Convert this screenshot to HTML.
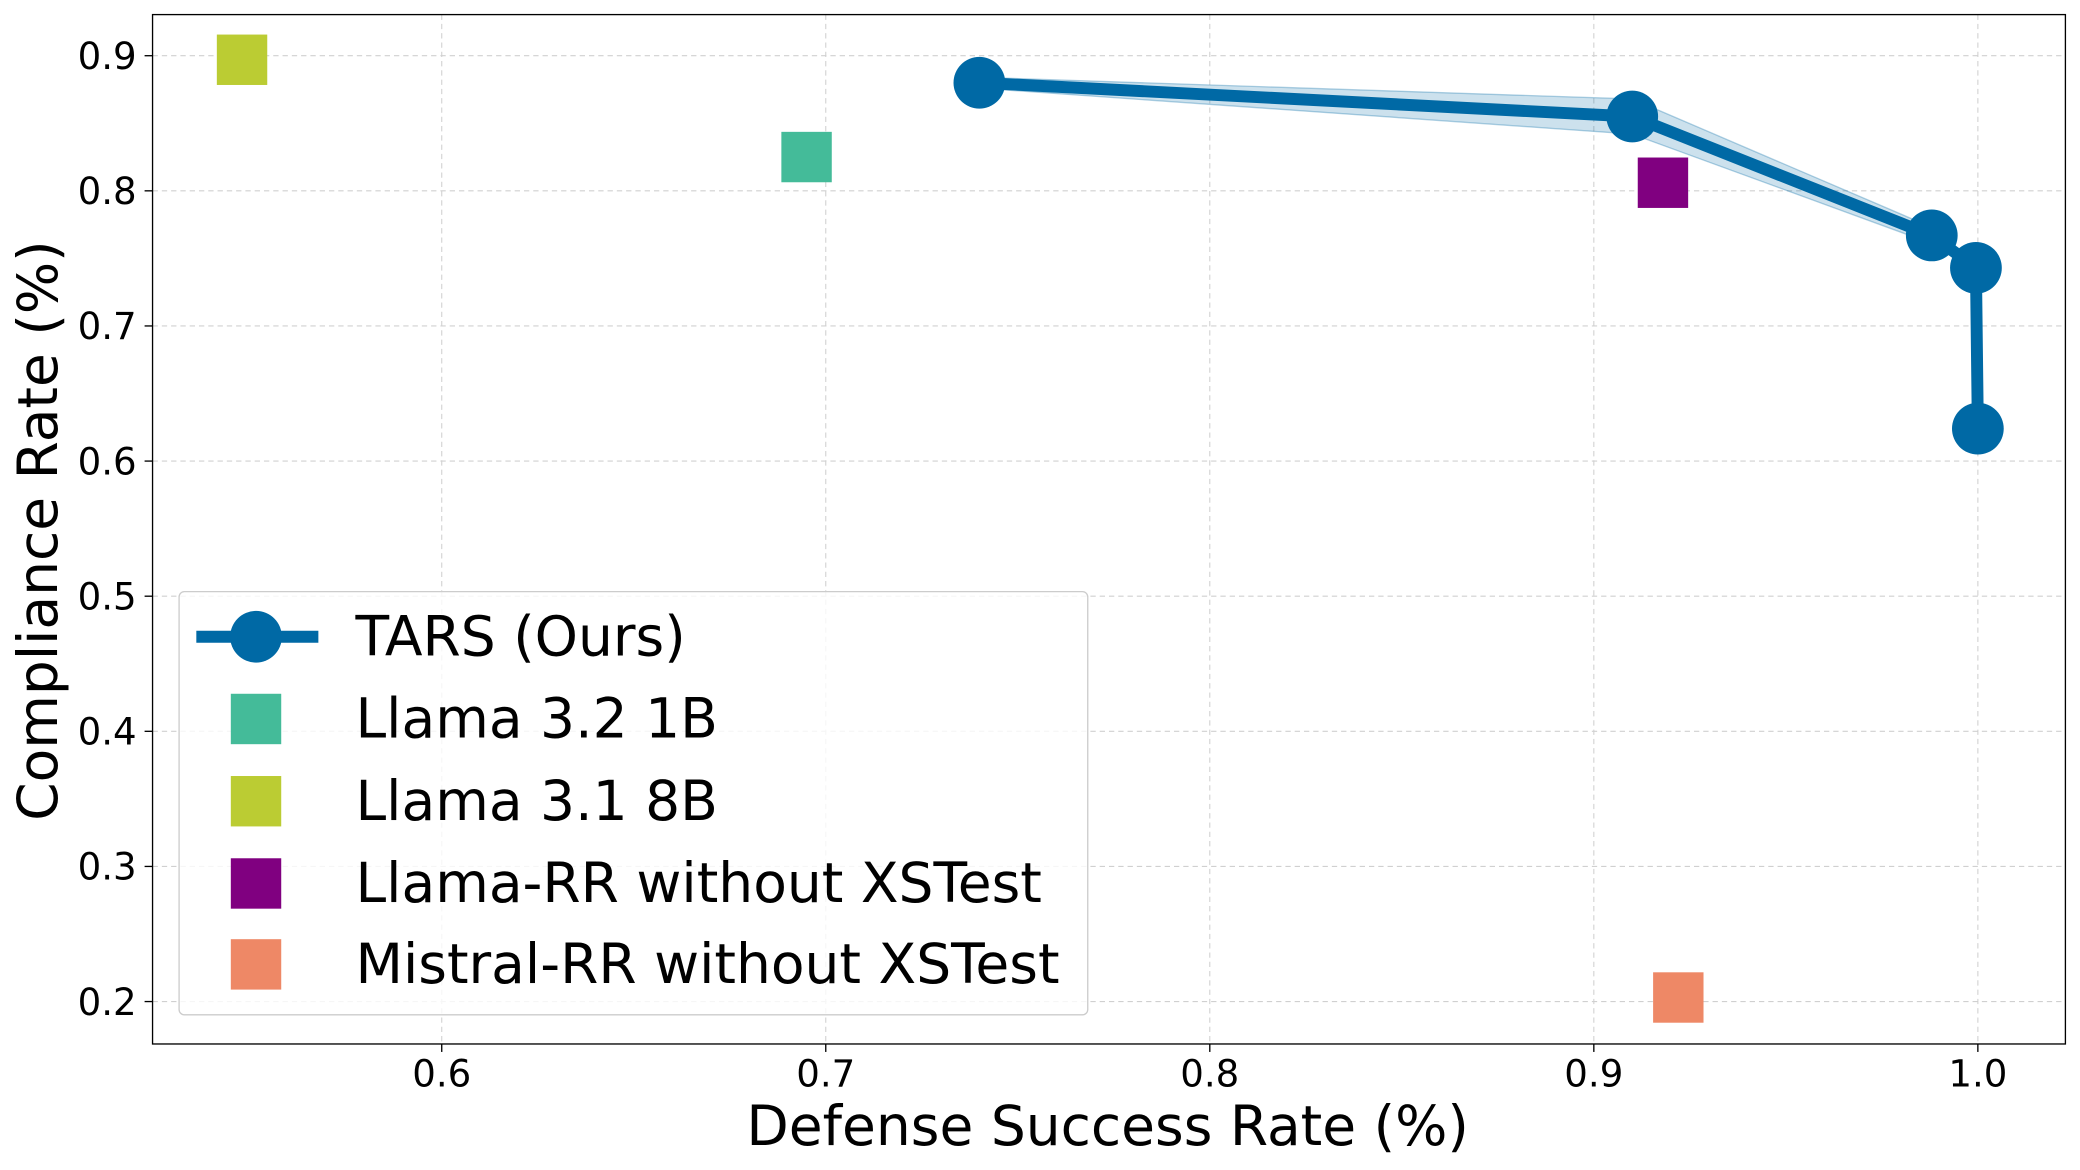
<!DOCTYPE html>
<html><head><meta charset="utf-8"><style>html,body{margin:0;padding:0;background:#fff}svg{display:block}</style></head>
<body>
<svg id="chart" width="2080" height="1170" viewBox="0 0 1568 882" xmlns="http://www.w3.org/2000/svg" font-family="'DejaVu Sans','Liberation Sans',sans-serif">
<g id="grid"></g>
<g id="marks"></g>
<rect x="115" y="11" width="1442" height="776" fill="none" stroke="#000" stroke-width="1"/>
<g id="ticks"></g>
<text x="835" y="863" font-size="41.5" text-anchor="middle">Defense Success Rate (%)</text>
<text transform="translate(43,400) rotate(-90)" font-size="41.5" text-anchor="middle">Compliance Rate (%)</text>
<g id="legend"></g>
</svg>
<script>
const xTicks = [0.6, 0.7, 0.8, 0.9, 1.0];
const yTicks = [0.2, 0.3, 0.4, 0.5, 0.6, 0.7, 0.8, 0.9];
const tarsX = [0.74, 0.91, 0.988, 0.9995, 1.0];
const tarsY = [0.880, 0.855, 0.767, 0.743, 0.624];
const tarsBand = [0.004, 0.013, 0.006, 0.003, 0.002];
const baseNames = ["Llama 3.2 1B", "Llama 3.1 8B", "Llama-RR without XSTest", "Mistral-RR without XSTest"];
const baseX = [0.695, 0.548, 0.918, 0.922];
const baseY = [0.825, 0.897, 0.806, 0.203];
const baseColors = ["#44bb99", "#bbcc33", "#800080", "#ee8866"];

const NS = "http://www.w3.org/2000/svg";
const sx = v => 333 + (v - 0.6) * 2895;
const sy = v => 42 + (0.9 - v) * 1018.6;
function mk(tag, attrs, parent){const e=document.createElementNS(NS,tag);for(const k in attrs)e.setAttribute(k,attrs[k]);parent.appendChild(e);return e;}
const grid=document.getElementById('grid'), ticks=document.getElementById('ticks'), marks=document.getElementById('marks'), legend=document.getElementById('legend');
xTicks.forEach(t=>{
  const g=mk('line',{x1:sx(t),x2:sx(t),y1:11,y2:787,stroke:'#d0d0d0','stroke-dasharray':'4,3','stroke-width':0.8},grid);
  
  
  mk('line',{x1:sx(t),x2:sx(t),y1:787,y2:793,stroke:'#000'},ticks);
  const l=mk('text',{x:sx(t),y:819,'font-size':28,'text-anchor':'middle'},ticks);
  l.textContent=t.toFixed(1);
  
  
});
yTicks.forEach(t=>{
  const g=mk('line',{x1:115,x2:1557,y1:sy(t),y2:sy(t),stroke:'#d0d0d0','stroke-dasharray':'4,3','stroke-width':0.8},grid);
  
  
  mk('line',{x1:109,x2:115,y1:sy(t),y2:sy(t),stroke:'#000'},ticks);
  const l=mk('text',{x:103,y:sy(t)+10,'font-size':28,'text-anchor':'end'},ticks);
  l.textContent=t.toFixed(1);
  
  
});
let up=tarsX.map((x,i)=>sx(x)+','+sy(tarsY[i]+tarsBand[i]));
let dn=tarsX.map((x,i)=>sx(x)+','+sy(tarsY[i]-tarsBand[i])).reverse();
const band=mk('polygon',{points:up.concat(dn).join(' '),fill:'#0069a5','fill-opacity':0.2,stroke:'#0069a5','stroke-opacity':0.3,'stroke-width':1},marks);


const line=mk('polyline',{points:tarsX.map((x,i)=>sx(x)+','+sy(tarsY[i])).join(' '),fill:'none',stroke:'#0069a5','stroke-width':9,'stroke-linejoin':'round'},marks);


tarsX.forEach((x,i)=>{
  const c=mk('circle',{cx:sx(x),cy:sy(tarsY[i]),r:19.5,fill:'#0069a5'},marks);
  
  
});
baseX.forEach((x,i)=>{
  const r=mk('rect',{x:sx(x)-19,y:sy(baseY[i])-19,width:38,height:38,fill:baseColors[i]},marks);
  
  
});
const box=mk('rect',{x:135,y:446,width:685,height:319,rx:4,fill:'#fff','fill-opacity':0.8,stroke:'#ccc','stroke-width':1},legend);


const ly=[480,542,604,666,727];
mk('line',{x1:148,x2:240,y1:ly[0],y2:ly[0],stroke:'#0069a5','stroke-width':9},legend);
mk('circle',{cx:193,cy:ly[0],r:19.5,fill:'#0069a5'},legend);
const t0=mk('text',{x:268,y:ly[0]+14,'font-size':41.5},legend);
t0.textContent='TARS (Ours)';


baseNames.forEach((n,i)=>{
  const y=ly[i+1];
  mk('rect',{x:174,y:y-19,width:38,height:38,fill:baseColors[i]},legend);
  const t=mk('text',{x:268,y:y+14,'font-size':41.5},legend);
  t.textContent=n;
  
  
});
</script>
</body></html>
